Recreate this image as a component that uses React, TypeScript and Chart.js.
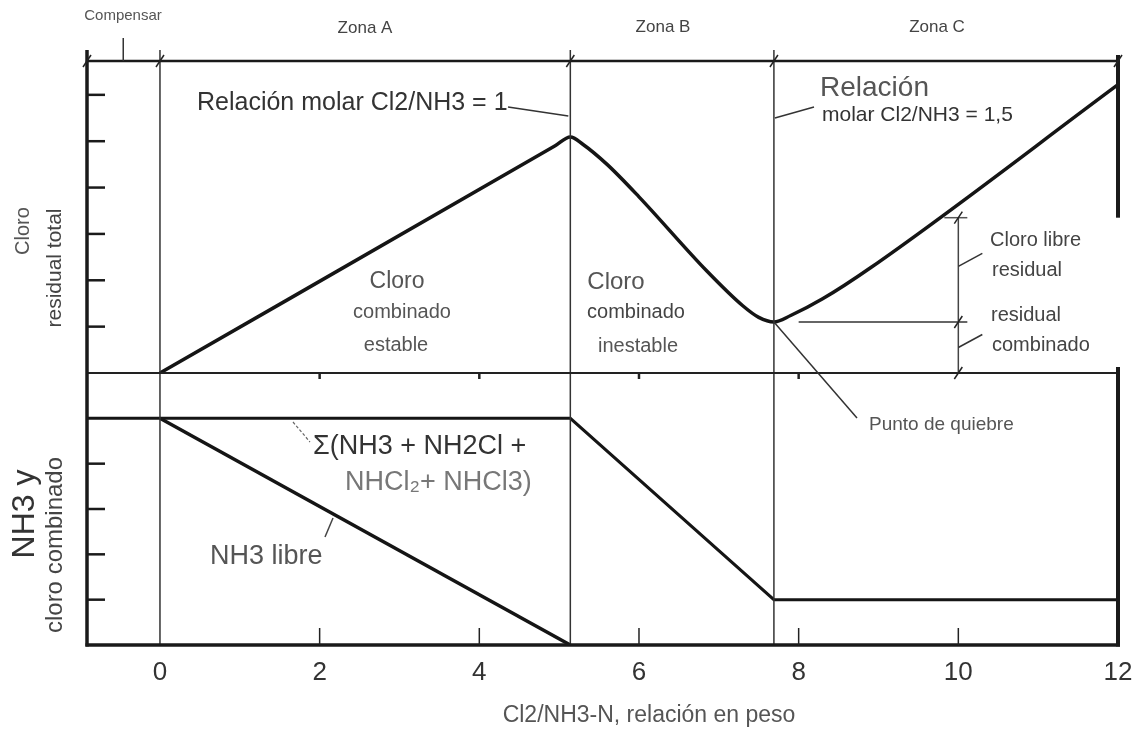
import React, { useEffect, useRef } from "react";
import { Chart, registerables } from "chart.js";

Chart.register(...registerables);

// ---------- data ----------
const X_MIN = -0.914;
const X_MAX = 12;
const TOP_MAX = 6.73;
const BOT_MAX = 6;

const xTickValues = [0, 2, 4, 6, 8, 10, 12];
const zoneBounds = [0, 5.14, 7.69];
const compensarMark = -0.46;
const topTickValues = [1, 2, 3, 4, 5, 6];
const bottomTickValues = [1, 2, 3, 4];
const midTickValues = [2, 4, 6, 8];
const bottomAxisTicks = [2, 4, 6, 8, 10];

// Cloro residual total (upper panel)
const residualX = [0, 4.95, 5.14, 5.3, 5.6, 6.0, 6.85, 7.3, 7.5, 7.69, 7.9, 8.3, 8.9, 12];
const residualY = [0, 4.9, 5.09, 4.93, 4.5, 3.8, 2.2, 1.45, 1.2, 1.1, 1.24, 1.6, 2.27, 6.22];

// Σ(NH3 + NH2Cl + NHCl2 + NHCl3) (lower panel)
const sumX = [X_MIN, 5.14, 7.69, 12];
const sumY = [5, 5, 1, 1];

// NH3 libre (lower panel)
const freeX = [0, 5.14];
const freeY = [5, 0];

// measurement bar (upper panel)
const barX = 10;
const barTop = 3.35;
const barMid = 1.1;

const FONT = "'Liberation Sans', Arial, Helvetica, sans-serif";
const NARROW = "'Liberation Sans Narrow', 'Arial Narrow', 'Liberation Sans', Arial, sans-serif";

const zip = (xs: number[], ys: number[]) => xs.map((x, i) => ({ x, y: ys[i] }));

const overlay = {
  id: "overlay",
  afterDatasetsDraw(chart: any) {
    const ctx: CanvasRenderingContext2D = chart.ctx;
    const xs = chart.scales.x;
    const yt = chart.scales.yTop;
    const yb = chart.scales.yBot;
    const X = (v: number) => xs.getPixelForValue(v);
    const YT = (v: number) => yt.getPixelForValue(v);
    const YB = (v: number) => yb.getPixelForValue(v);
    const { left, right, top, bottom } = chart.chartArea;
    const mid = YT(0);

    ctx.save();
    ctx.lineCap = "butt";
    const line = (x1: number, y1: number, x2: number, y2: number, w: number, c = "#1a1a1a") => {
      ctx.beginPath();
      ctx.strokeStyle = c;
      ctx.lineWidth = w;
      ctx.moveTo(x1, y1);
      ctx.lineTo(x2, y2);
      ctx.stroke();
    };
    const slash = (x: number, y: number) => line(x - 4, y + 6, x + 4, y - 6, 1.5, "#222");

    // zone verticals
    for (const z of zoneBounds) line(X(z), top - 11, X(z), bottom, 1.5, "#333");

    // frame
    line(left - 1, top, right, top, 2.5);
    line(left, mid, right, mid, 2, "#222");
    line(left - 1.5, bottom, right + 2, bottom, 3.5);
    line(left, top - 11, left, bottom + 1.5, 3.5);
    line(right, top - 6, right, YT(barTop), 4);
    line(right, mid - 6, right, bottom + 1.5, 4);

    // compensar tick
    line(X(compensarMark), top - 23, X(compensarMark), top, 1.5, "#333");

    // slashes on top border
    for (const v of [X_MIN, ...zoneBounds, X_MAX]) slash(X(v), top);

    // left ticks
    for (const v of topTickValues) line(left, YT(v), left + 18, YT(v), 2.5);
    for (const v of bottomTickValues) line(left, YB(v), left + 18, YB(v), 2.5);
    // bottom axis ticks
    for (const v of bottomAxisTicks) line(X(v), bottom, X(v), bottom - 17, 1.5, "#222");
    // mid divider ticks
    for (const v of midTickValues) line(X(v), mid - 1, X(v), mid + 6, 2.5, "#222");

    // measurement bar
    line(X(barX), YT(barTop), X(barX), mid, 1.5, "#444");
    line(X(barX) - 14, YT(barTop), X(barX) + 9, YT(barTop), 1.5, "#555");
    line(X(8.0), YT(barMid), X(barX) + 9, YT(barMid), 2, "#666");
    slash(X(barX), YT(barTop));
    slash(X(barX), YT(barMid));
    slash(X(barX), mid);
    line(X(barX), YT(2.3), X(barX) + 24, YT(2.3) - 13, 1.5, "#333");
    line(X(barX), YT(0.55), X(barX) + 24, YT(0.55) - 13, 1.5, "#333");

    // leaders
    line(508, 107, X(zoneBounds[1]) - 2, 116, 1.5, "#333");
    line(X(zoneBounds[2]) + 1, 118, 814, 107, 1.5, "#333");
    line(X(zoneBounds[2]), YT(barMid), 857, 418, 1.5, "#333");
    line(333, 518, 325, 537, 1.5, "#444");
    ctx.setLineDash([3, 2]);
    line(293, 422, 310, 442, 1.2, "#666");
    ctx.setLineDash([]);

    // texts
    const text = (s: string, x: number, y: number, size: number, color = "#555", align: CanvasTextAlign = "left", family = FONT) => {
      ctx.font = `${size}px ${family}`;
      ctx.fillStyle = color;
      ctx.textAlign = align;
      ctx.textBaseline = "middle";
      ctx.fillText(s, x, y);
    };
    const vtext = (s: string, x: number, y: number, size: number, color = "#555") => {
      ctx.save();
      ctx.translate(x, y);
      ctx.rotate(-Math.PI / 2);
      text(s, 0, 0, size, color, "center");
      ctx.restore();
    };

    text("Compensar", 123, 16, 15, "#555", "center");
    text("Zona A", 365, 28, 17, "#444", "center");
    text("Zona B", 663, 27, 17, "#444", "center");
    text("Zona C", 937, 27, 17, "#444", "center");

    text("Relación molar Cl2/NH3 = 1", 197, 103, 25, "#333");
    text("Relación", 820, 88, 28, "#555");
    text("molar Cl2/NH3 = 1,5", 822, 115, 21, "#333");

    text("Cloro", 397, 282, 23, "#555", "center");
    text("combinado", 402, 312, 20, "#555", "center");
    text("estable", 396, 345, 20, "#555", "center");

    text("Cloro", 616, 282, 24, "#555", "center");
    text("combinado", 636, 312, 20, "#444", "center");
    text("inestable", 638, 346, 20, "#555", "center");

    text("Cloro libre", 990, 240, 20, "#444");
    text("residual", 992, 270, 20, "#444");
    text("residual", 991, 315, 20, "#444");
    text("combinado", 992, 345, 20, "#444");

    text("Punto de quiebre", 869, 425, 19, "#555");

    text("Σ(NH3 + NH2Cl +", 313, 447, 27, "#333");
    text("NHCl₂+ NHCl3)", 345, 483, 27, "#777");
    text("NH3 libre", 210, 557, 27, "#555");

    text("Cl2/NH3-N, relación en peso", 649, 716, 23, "#555", "center");

    vtext("Cloro", 23, 231, 20, "#555");
    vtext("residual total", 55, 268, 21, "#444");
    vtext("NH3 y", 25, 514, 32, "#333");
    vtext("cloro combinado", 55, 545, 24, "#444");

    ctx.restore();
  },
};

export default function App() {
  const ref = useRef<HTMLCanvasElement | null>(null);

  useEffect(() => {
    if (!ref.current) return;
    const hidden = {
      ticks: { display: false },
      grid: { display: false },
      border: { display: false },
      afterFit: (s: any) => {
        s.width = 0;
      },
    };
    const chart = new Chart(ref.current, {
      type: "line",
      data: {
        datasets: [
          {
            label: "Cloro residual total",
            data: zip(residualX, residualY),
            yAxisID: "yTop",
            borderColor: "#151515",
            borderWidth: 3.5,
            pointRadius: 0,
            cubicInterpolationMode: "monotone",
            fill: false,
          },
          {
            label: "Σ(NH3 + NH2Cl + NHCl2 + NHCl3)",
            data: zip(sumX, sumY),
            yAxisID: "yBot",
            borderColor: "#151515",
            borderWidth: 3,
            pointRadius: 0,
            tension: 0,
            fill: false,
          },
          {
            label: "NH3 libre",
            data: zip(freeX, freeY),
            yAxisID: "yBot",
            borderColor: "#151515",
            borderWidth: 3.5,
            pointRadius: 0,
            tension: 0,
            fill: false,
          },
        ],
      },
      options: {
        responsive: false,
        devicePixelRatio: 1,
        animation: false,
        events: [],
        layout: { padding: { left: 87, top: 61, right: 28, bottom: 0 } },
        plugins: { legend: { display: false }, tooltip: { enabled: false } },
        scales: {
          x: {
            type: "linear",
            min: X_MIN,
            max: X_MAX,
            grid: { display: false, drawTicks: false },
            border: { display: false },
            afterBuildTicks: (s: any) => {
              s.ticks = xTickValues.map((v) => ({ value: v }));
            },
            afterFit: (s: any) => {
              s.height = 85;
            },
            ticks: {
              autoSkip: false,
              maxRotation: 0,
              padding: 12,
              color: "#333",
              font: { family: NARROW, size: 26 },
              callback: (v: any) => String(v),
            },
          },
          yBot: {
            type: "linear",
            position: "left",
            stack: "panels",
            stackWeight: 272,
            min: 0,
            max: BOT_MAX,
            ...hidden,
          },
          yTop: {
            type: "linear",
            position: "left",
            stack: "panels",
            stackWeight: 312,
            min: 0,
            max: TOP_MAX,
            ...hidden,
          },
        },
      },
      plugins: [overlay],
    } as any);
    return () => chart.destroy();
  }, []);

  return (
    <div style={{ position: "fixed", left: 0, top: 0, width: 1146, height: 730, background: "#fff" }}>
      <canvas ref={ref} width={1146} height={730} style={{ display: "block" }} />
    </div>
  );
}
